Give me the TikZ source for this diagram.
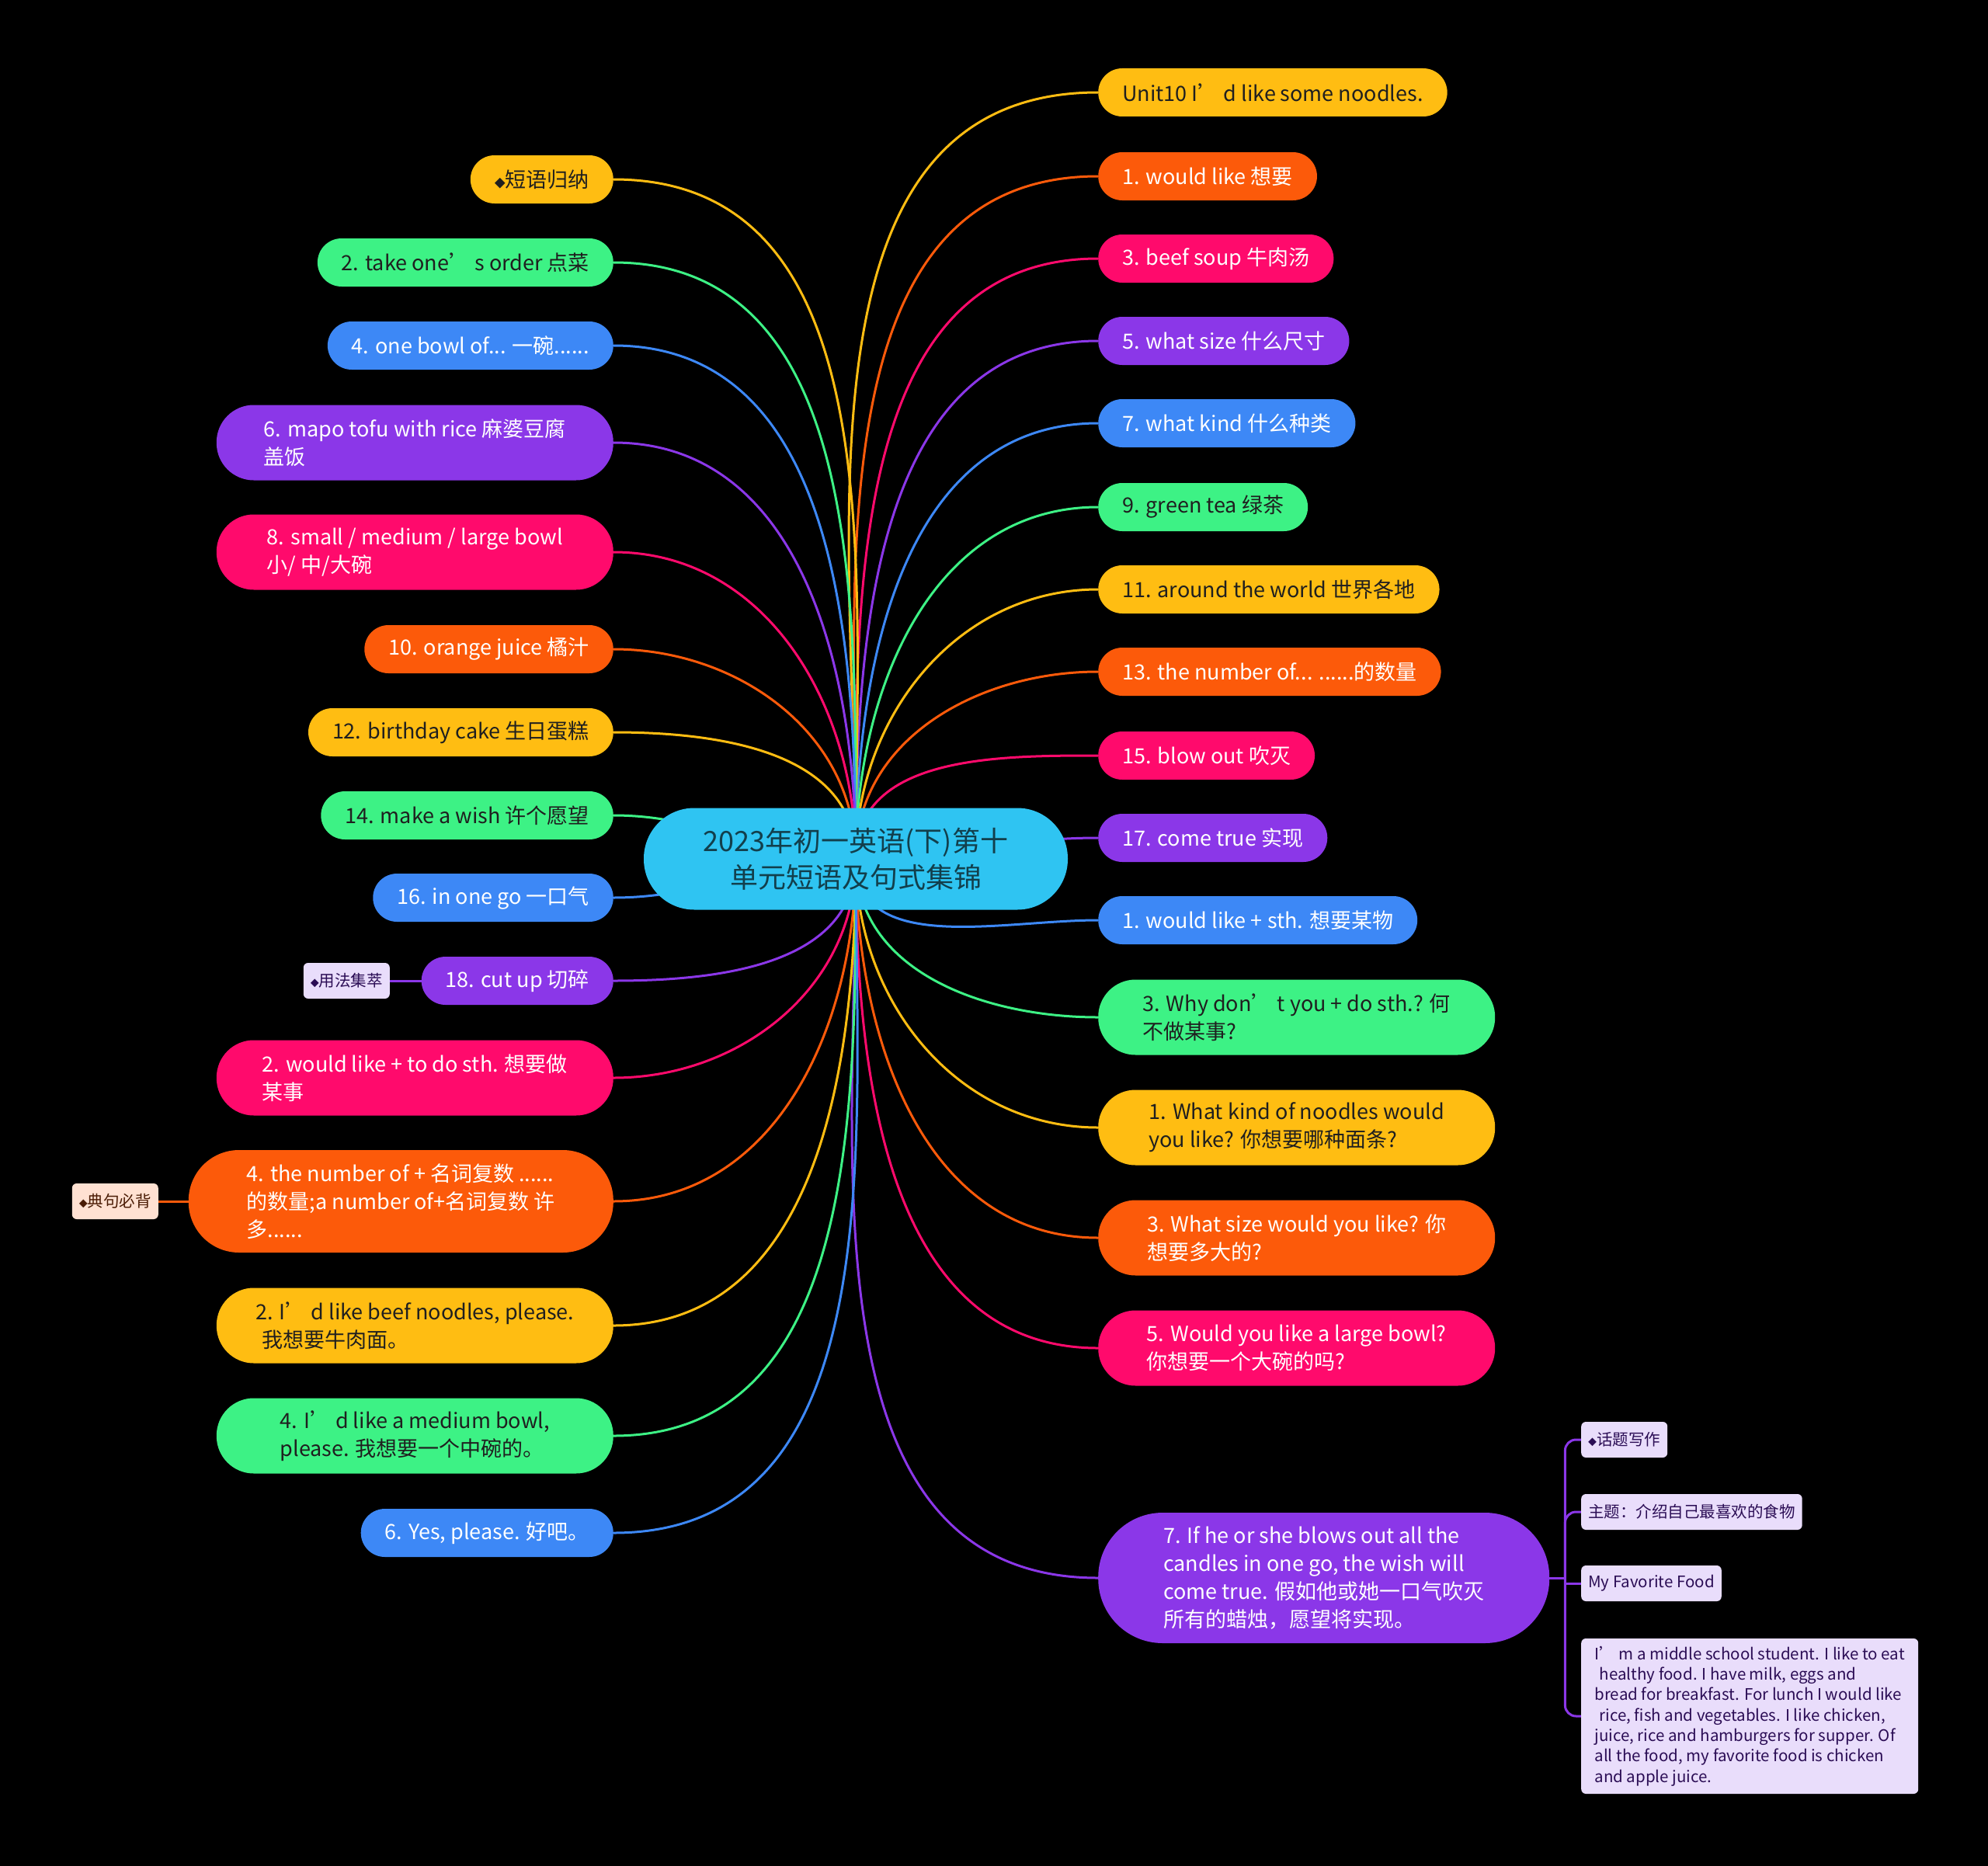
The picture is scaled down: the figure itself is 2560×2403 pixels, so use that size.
\documentclass[tikz,border=0pt]{standalone}
\usepackage{fontspec}
\setmainfont{Noto Sans CJK SC}
\XeTeXlinebreaklocale "zh"
\usetikzlibrary{backgrounds,calc}

\definecolor{cyellow}{HTML}{FFBD12}
\definecolor{corange}{HTML}{FC5A0A}
\definecolor{cpink}{HTML}{FF0A6C}
\definecolor{cpurple}{HTML}{8B37E8}
\definecolor{cblue}{HTML}{3D88F6}
\definecolor{cgreen}{HTML}{3DF285}
\definecolor{croot}{HTML}{2FC4F2}
\definecolor{clav}{HTML}{E9DDFB}
\definecolor{cpeach}{HTML}{FFE1D2}
\definecolor{ink}{HTML}{1F1F1F}
\definecolor{rootink}{HTML}{123F4C}
\definecolor{lavink}{HTML}{2B0D55}
\definecolor{peachink}{HTML}{4A1C05}

\newcommand{\dmd}[1]{{\fontsize{#1}{#1}\selectfont ◆}}

\tikzset{
  pill/.style={rounded corners=31pt, minimum height=62pt, inner xsep=31pt, inner ysep=0pt,
    font=\fontsize{27}{36}\selectfont},
  tall/.style={pill, rounded corners=48pt, minimum height=97pt, minimum width=511pt, align=left},
  tag/.style={rounded corners=6pt, minimum height=46pt, inner xsep=9pt, inner ysep=0pt,
    fill=clav, text=lavink, font=\fontsize{20.5}{26.3}\selectfont},
  link/.style={line width=3pt},
  dark/.style={text=ink},
  light/.style={text=white}
}

\begin{document}
\begin{tikzpicture}[x=1pt, y=-1pt]
    \useasboundingbox (0,0) rectangle (2560,2403);
    % Root
    \node[pill, fill=croot, text=rootink, minimum width=546pt, minimum height=131pt,
      rounded corners=65pt, align=center, font=\fontsize{36}{47}\selectfont]
      (root) at (1102,1106) {2023年初一英语(下)第十\\单元短语及句式集锦};
    % Right branches
    \node[pill, fill=cyellow, dark, anchor=west] (r1) at (1414,119) {Unit10 I’ d like some noodles.};
    \node[pill, fill=corange, light, anchor=west] (r2) at (1414,227) {1. would like 想要};
    \node[pill, fill=cpink, light, anchor=west] (r3) at (1414,333) {3. beef soup 牛肉汤};
    \node[pill, fill=cpurple, light, anchor=west] (r4) at (1414,439) {5. what size 什么尺寸};
    \node[pill, fill=cblue, light, anchor=west] (r5) at (1414,545) {7. what kind 什么种类};
    \node[pill, fill=cgreen, dark, anchor=west] (r6) at (1414,653) {9. green tea 绿茶};
    \node[pill, fill=cyellow, dark, anchor=west] (r7) at (1414,759) {11. around the world 世界各地};
    \node[pill, fill=corange, light, anchor=west] (r8) at (1414,865) {13. the number of... ......的数量};
    \node[pill, fill=cpink, light, anchor=west] (r9) at (1414,973) {15. blow out 吹灭};
    \node[pill, fill=cpurple, light, anchor=west] (r10) at (1414,1079) {17. come true 实现};
    \node[pill, fill=cblue, light, anchor=west] (r11) at (1414,1185) {1. would like + sth. 想要某物};
    \node[tall, fill=cgreen, dark, anchor=west] (r12) at (1414,1310)
      {3. Why don’ t you + do sth.? 何\\不做某事?};
    \node[tall, fill=cyellow, dark, anchor=west] (r13) at (1414,1452)
      {1. What kind of noodles would\\you like? 你想要哪种面条?};
    \node[tall, fill=corange, light, anchor=west] (r14) at (1414,1594)
      {3. What size would you like? 你\\想要多大的?};
    \node[tall, fill=cpink, light, anchor=west] (r15) at (1414,1736)
      {5. Would you like a large bowl?\\你想要一个大碗的吗?};
    \node[tall, fill=cpurple, light, anchor=west, minimum width=581pt, minimum height=168pt,
      rounded corners=83pt] (r16) at (1414,2032)
      {7. If he or she blows out all the\\candles in one go, the wish will\\come true. 假如他或她一口气吹灭\\所有的蜡烛，愿望将实现。};
    % Writing notes
    \node[tag, anchor=west] (t1) at (2036,1854) {\dmd{11}话题写作};
    \node[tag, anchor=west] (t2) at (2036,1947) {主题：介绍自己最喜欢的食物};
    \node[tag, anchor=west] (t3) at (2036,2039) {My Favorite Food};
    \node[tag, anchor=west, align=left, minimum width=434pt, inner ysep=10pt] (t4) at (2036,2210)
      {I’ m a middle school student. I like to eat\\\hspace*{0.3em}healthy food. I have milk, eggs and\\bread for breakfast. For lunch I would like\\\hspace*{0.3em}rice, fish and vegetables. I like chicken,\\juice, rice and hamburgers for supper. Of\\all the food, my favorite food is chicken\\and apple juice.};
    % Left branches
    \node[pill, fill=cyellow, dark, anchor=east] (l1) at (790,231) {\dmd{14}短语归纳};
    \node[pill, fill=cgreen, dark, anchor=east] (l2) at (790,338) {2. take one’ s order 点菜};
    \node[pill, fill=cblue, light, anchor=east] (l3) at (790,445) {4. one bowl of... 一碗......};
    \node[tall, fill=cpurple, light, anchor=east] (l4) at (790,570)
      {6. mapo tofu with rice 麻婆豆腐\\盖饭};
    \node[tall, fill=cpink, light, anchor=east] (l5) at (790,711)
      {8. small / medium / large bowl\\小/ 中/大碗};
    \node[pill, fill=corange, light, anchor=east] (l6) at (790,836) {10. orange juice 橘汁};
    \node[pill, fill=cyellow, dark, anchor=east] (l7) at (790,943) {12. birthday cake 生日蛋糕};
    \node[pill, fill=cgreen, dark, anchor=east] (l8) at (790,1050) {14. make a wish 许个愿望};
    \node[pill, fill=cblue, light, anchor=east] (l9) at (790,1156) {16. in one go 一口气};
    \node[pill, fill=cpurple, light, anchor=east] (l10) at (790,1263) {18. cut up 切碎};
    \node[tall, fill=cpink, light, anchor=east] (l11) at (790,1388)
      {2. would like + to do sth. 想要做\\某事};
    \node[tall, fill=corange, light, anchor=east, minimum width=547pt, minimum height=132pt,
      rounded corners=65pt] (l12) at (790,1547)
      {4. the number of + 名词复数 ......\\的数量;a number of+名词复数 许\\多......};
    \node[tall, fill=cyellow, dark, anchor=east] (l13) at (790,1707)
      {2. I’ d like beef noodles, please.\\\hspace*{0.3em}我想要牛肉面。};
    \node[tall, fill=cgreen, dark, anchor=east] (l14) at (790,1849)
      {4. I’ d like a medium bowl,\\please. 我想要一个中碗的。};
    \node[pill, fill=cblue, light, anchor=east] (l15) at (790,1974) {6. Yes, please. 好吧。};
    % Side tags
    \node[tag, anchor=east] (u1) at (502,1263) {\dmd{11}用法集萃};
    \node[tag, anchor=east, fill=cpeach, text=peachink] (u2) at (204,1547) {\dmd{11}典句必背};
    \coordinate (fork) at ($(r16.east)+(20,0)$);

    \begin{scope}[on background layer]
    \fill[black] (0,0) rectangle (2560,2403);
    % Right links
    \draw[link, cyellow] (root.center) to[out=90, in=180] (r1.west);
    \draw[link, corange] (root.center) to[out=90, in=180] (r2.west);
    \draw[link, cpink] (root.center) to[out=90, in=180] (r3.west);
    \draw[link, cpurple] (root.center) to[out=90, in=180] (r4.west);
    \draw[link, cblue] (root.center) to[out=90, in=180] (r5.west);
    \draw[link, cgreen] (root.center) to[out=90, in=180] (r6.west);
    \draw[link, cyellow] (root.center) to[out=90, in=180] (r7.west);
    \draw[link, corange] (root.center) to[out=90, in=180] (r8.west);
    \draw[link, cpink] (root.center) to[out=90, in=180] (r9.west);
    \draw[link, cpurple] (root.center) to[out=0, in=180] (r10.west);
    \draw[link, cblue] (root.center) to[out=-90, in=180] (r11.west);
    \draw[link, cgreen] (root.center) to[out=-90, in=180] (r12.west);
    \draw[link, cyellow] (root.center) to[out=-90, in=180] (r13.west);
    \draw[link, corange] (root.center) to[out=-90, in=180] (r14.west);
    \draw[link, cpink] (root.center) to[out=-90, in=180] (r15.west);
    \draw[link, cpurple] (root.center) to[out=-90, in=180] (r16.west);
    % Left links
    \draw[link, cyellow] (root.center) to[out=90, in=0] (l1.east);
    \draw[link, cgreen] (root.center) to[out=90, in=0] (l2.east);
    \draw[link, cblue] (root.center) to[out=90, in=0] (l3.east);
    \draw[link, cpurple] (root.center) to[out=90, in=0] (l4.east);
    \draw[link, cpink] (root.center) to[out=90, in=0] (l5.east);
    \draw[link, corange] (root.center) to[out=90, in=0] (l6.east);
    \draw[link, cyellow] (root.center) to[out=90, in=0] (l7.east);
    \draw[link, cgreen] (root.center) to[out=180, in=0] (l8.east);
    \draw[link, cblue] (root.center) to[out=180, in=0] (l9.east);
    \draw[link, cpurple] (root.center) to[out=-90, in=0] (l10.east);
    \draw[link, cpink] (root.center) to[out=-90, in=0] (l11.east);
    \draw[link, corange] (root.center) to[out=-90, in=0] (l12.east);
    \draw[link, cyellow] (root.center) to[out=-90, in=0] (l13.east);
    \draw[link, cgreen] (root.center) to[out=-90, in=0] (l14.east);
    \draw[link, cblue] (root.center) to[out=-90, in=0] (l15.east);
    % Tag links
    \draw[link, cpurple] (u1.east) -- (l10.west);
    \draw[link, corange] (u2.east) -- (l12.west);
    \draw[link, cpurple] (r16.east) -- (fork);
    \draw[link, cpurple, rounded corners=14pt] (fork) |- (t1.west);
    \draw[link, cpurple, rounded corners=14pt] (fork) |- (t2.west);
    \draw[link, cpurple] (fork) |- (t3.west);
    \draw[link, cpurple, rounded corners=14pt] (fork) |- (t4.west);
    \end{scope}
\end{tikzpicture}
\end{document}
